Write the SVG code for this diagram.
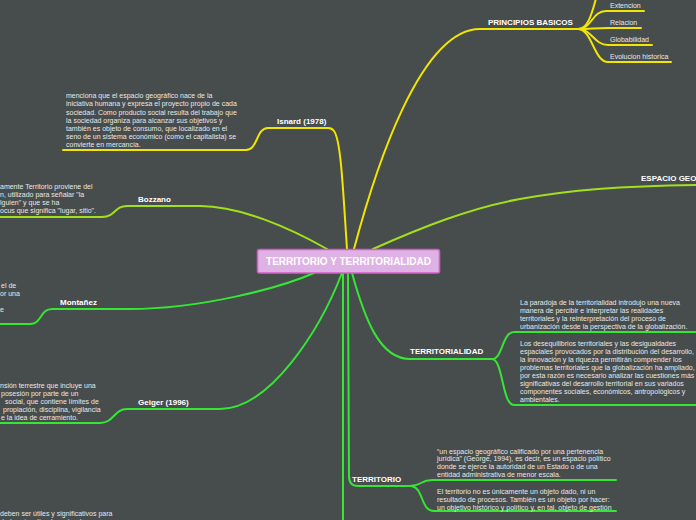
<svg xmlns="http://www.w3.org/2000/svg" width="696" height="520" viewBox="0 0 696 520">
<style>
.c{fill:none;stroke-width:2;stroke-linecap:round}
.y{stroke:#f2e600}
.l{stroke:#a2e01c}
.g{stroke:#35e635}
.lb{font-family:"Liberation Sans",Arial,sans-serif;font-weight:bold;font-size:8px;fill:#ffffff}
.t{font-family:"Liberation Sans",Arial,sans-serif;font-size:7px;fill:#e8e8e8}
.s{font-family:"Liberation Sans",Arial,sans-serif;font-size:7px;fill:#e8e8e8}
</style>
<rect width="696" height="520" fill="#474c4c"/>
<g id="connectors">
<path class="c y" d="M347,249 C343,190 341,140 334,131 Q332,128 328,128 L268,128 C256,128 258,150 246,150 L63,150"/>
<path class="c y" d="M354,249 C375,170 420,29 480,29 L578,29"/>
<path class="c y" d="M578,29 C592,29 594,-2 600,-12"/>
<path class="c y" d="M578,29 C592,29 592,11 606,11 L644,11"/>
<path class="c y" d="M578,29 C592,29 594,28 608,28 L641,28"/>
<path class="c y" d="M578,29 C592,29 594,45 608,45 L652,45"/>
<path class="c y" d="M578,29 C592,29 594,62 608,62 L671,62"/>
<path class="c l" d="M373,249 C420,228 470,208 520,199 C570,190 620,186 697,185"/>
<path class="c l" d="M327,249 C290,228 240,206 200,206 L127,206 C114,206 116,217 102,217 L-2,217"/>
<path class="c g" d="M314,273 C280,288 200,309 130,309 L52,309 C40,309 42,324 30,324 L-2,324"/>
<path class="c g" d="M342,273 C320,330 270,409 220,409 L127,409 C114,409 114,423 100,423 L-2,423"/>
<path class="c g" d="M352,273 C365,320 380,359 410,359 L492,359 C503,359 502,332 514,332 L697,332"/>
<path class="c g" d="M492,359 C503,359 502,405 514,405 L697,405"/>
<path class="c g" d="M348,273 L349,476 Q349,486 358,486 L410,486 C422,486 420,480 432,480 L616,480"/>
<path class="c g" d="M410,486 C424,486 420,511 434,511 L616,511"/>
<path class="c g" d="M343,273 L343,522"/>
</g>
<g id="center">
<rect x="257.5" y="249.5" width="182" height="23.5" rx="2" fill="#dfb2e5" stroke="#d35ec6" stroke-width="1.6"/>
<text x="348.5" y="265" text-anchor="middle" font-family="Liberation Sans,Arial,sans-serif" font-weight="bold" font-size="10" fill="#ffffff">TERRITORIO Y TERRITORIALIDAD</text>
</g>
<g id="isnard">
<text class="lb" x="277" y="124">Isnard (1978)</text>
<text class="t" x="66" y="98.3">menciona que el espacio geográfico nace de la</text>
<text class="t" x="66" y="106.4">iniciativa humana y expresa el proyecto propio de cada</text>
<text class="t" x="66" y="114.5">sociedad. Como producto social resulta del trabajo que</text>
<text class="t" x="66" y="122.6">la sociedad organiza para alcanzar sus objetivos y</text>
<text class="t" x="66" y="130.7">también es objeto de consumo, que localizado en el</text>
<text class="t" x="66" y="138.8">seno de un sistema económico (como el capitalista) se</text>
<text class="t" x="66" y="146.9">convierte en mercancía.</text>
</g>
<g id="principios">
<text class="lb" x="488" y="24.5">PRINCIPIOS BASICOS</text>
</g>
<g id="extencion"><text class="s" x="610" y="8">Extencion</text></g>
<g id="relacion"><text class="s" x="610" y="25">Relacion</text></g>
<g id="globabilidad"><text class="s" x="610" y="41.5">Globabilidad</text></g>
<g id="evolucion"><text class="s" x="610" y="59">Evolucion historica</text></g>
<g id="espacio"><text class="lb" x="641" y="181">ESPACIO GEO</text></g>
<g id="bozzano">
<text class="lb" x="138" y="201.5">Bozzano</text>
<text class="t" x="0" y="188.5">amente Territorio proviene del</text>
<text class="t" x="0" y="196.5">n, utilizado para señalar "la</text>
<text class="t" x="0" y="204.5">lguien" y que se ha</text>
<text class="t" x="0" y="212.5">ocus que significa "lugar, sitio".</text>
</g>
<g id="montanez">
<text class="lb" x="60" y="304.5">Montañez</text>
<text class="t" x="1" y="287.5">el de</text>
<text class="t" x="0" y="295.5">or una</text>
<text class="t" x="0" y="312">e</text>
</g>
<g id="geiger">
<text class="lb" x="138" y="404.5">Geiger (1996)</text>
<text class="t" x="0" y="387.5">nsión terrestre que incluye una</text>
<text class="t" x="1" y="395.6">posesión por parte de un</text>
<text class="t" x="5" y="403.7">social, que contiene límites de</text>
<text class="t" x="3" y="411.8">propiación, disciplina, vigilancia</text>
<text class="t" x="1" y="419.9">e la idea de cerramiento.</text>
</g>
<g id="territorialidad">
<text class="lb" x="410" y="353.5">TERRITORIALIDAD</text>
<text class="t" x="520" y="305">La paradoja de la territorialidad introdujo una nueva</text>
<text class="t" x="520" y="313">manera de percibir e interpretar las realidades</text>
<text class="t" x="520" y="321">territoriales y la reinterpretación del proceso de</text>
<text class="t" x="520" y="329">urbanización desde la perspectiva de la globalización.</text>
<text class="t" x="520" y="345.7">Los desequilibrios territoriales y las desigualdades</text>
<text class="t" x="520" y="353.8">espaciales provocados por la distribución del desarrollo,</text>
<text class="t" x="520" y="361.9">la innovación y la riqueza permitirán comprender los</text>
<text class="t" x="520" y="370">problemas territoriales que la globalización ha ampliado,</text>
<text class="t" x="520" y="378.1">por esta razón es necesario analizar las cuestiones más</text>
<text class="t" x="520" y="386.2">significativas del desarrollo territorial en sus variados</text>
<text class="t" x="520" y="394.3">componentes sociales, económicos, antropológicos y</text>
<text class="t" x="520" y="402.4">ambientales.</text>
</g>
<g id="territorio">
<text class="lb" x="352" y="481.5">TERRITORIO</text>
<text class="t" x="437" y="453.5">“un espacio geográfico calificado por una pertenencia</text>
<text class="t" x="437" y="461.4">jurídica” (George, 1994), es decir, es un espacio político</text>
<text class="t" x="437" y="469.3">donde se ejerce la autoridad de un Estado o de una</text>
<text class="t" x="437" y="477.2">entidad administrativa de menor escala.</text>
<text class="t" x="437" y="494">El territorio no es únicamente un objeto dado, ni un</text>
<text class="t" x="437" y="502">resultado de procesos. También es un objeto por hacer:</text>
<text class="t" x="437" y="510">un objetivo histórico y político y, en tal, objeto de gestión</text>
</g>
<g id="bottom">
<text class="t" x="0" y="515.5">deben ser útiles y significativos para</text>
<text class="t" x="0" y="523.6">dad sociocultural y natural y promover</text>
</g>
</svg>
